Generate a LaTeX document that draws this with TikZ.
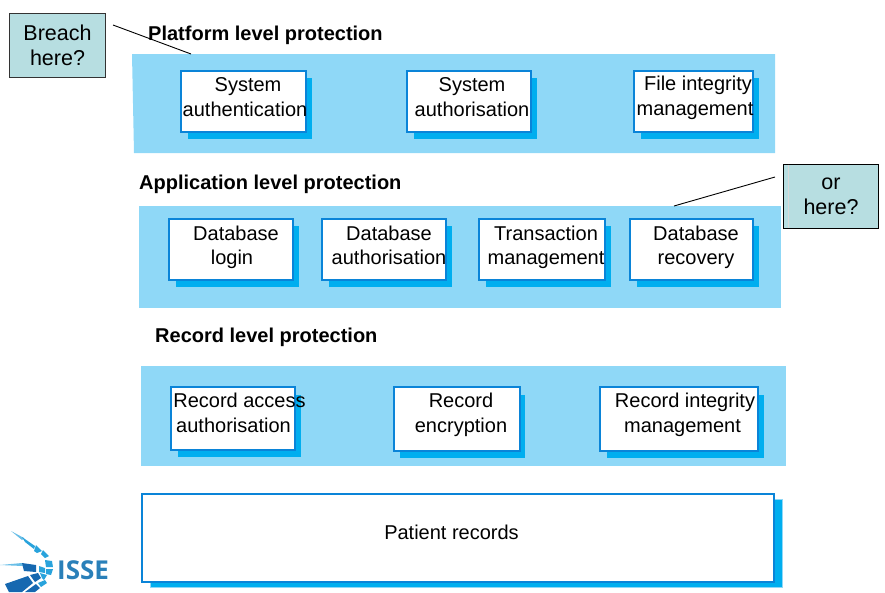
\documentclass[tikz,border=0pt]{standalone}
\usepackage{fontspec}
\setmainfont{Liberation Sans}
\newfontfamily\logofont{Open Sans}
\usetikzlibrary{shadows}
\definecolor{panelblue}{HTML}{8FD8F7}
\definecolor{shadowblue}{HTML}{00AEEF}
\definecolor{edgeblue}{HTML}{0A84D8}
\definecolor{noteteal}{HTML}{B7DEE1}
\definecolor{logoblue}{HTML}{2A80B9}
\definecolor{logolight}{HTML}{29A3DC}
\definecolor{logodark}{HTML}{1668B0}
\tikzset{
  panel/.style={fill=panelblue,draw=none},
  box/.style={draw=edgeblue,line width=2pt,fill=white,inner sep=0pt,anchor=north west,xshift=-1pt,yshift=1pt},
  boxshadow/.style={copy shadow={shadow xshift=#1,shadow yshift=-7pt,fill=shadowblue,draw=panelblue,line width=0.6pt}},
  boxshadow/.default=6.5pt,
  label/.style={align=center,font=\fontsize{20}{24.4}\selectfont},
  title/.style={anchor=west,inner sep=0pt,font=\fontsize{20}{24}\selectfont\bfseries},
  note/.style={draw=black!80,line width=1pt,fill=noteteal,inner sep=0pt,anchor=north west,align=center,font=\fontsize{21.5}{25}\selectfont},
  pointer/.style={draw=black,line width=0.9pt}
}
\begin{document}
\begin{tikzpicture}[x=1pt,y=-1pt]
\useasboundingbox (0,0) rectangle (885,592);
% panels
\path[panel] (132,54) -- (775,54) -- (775,153) -- (134,153) -- cycle;
\path[panel] (139,206) rectangle (781,308);
\path[panel] (141,366) rectangle (786,466);
% headings
\node[title] (platform) at (148,35) {Platform level protection};
\node[title] (application) at (139,184) {Application level protection};
\node[title] (record) at (155,337) {Record level protection};
% platform level
\node[box,boxshadow,minimum width=125pt,minimum height=61.5pt] (sysauth) at (180.5,70.5) {};
\node[box,boxshadow,minimum width=124pt,minimum height=61.5pt] (sysauthz) at (407,70.5) {};
\node[box,boxshadow,minimum width=119pt,minimum height=61.5pt] (fileint) at (634,70.5) {};
\node[label] (sysauthtext) at (245,97) {\hspace{6pt}System\\authentication};
\node[label] (sysauthztext) at (472,97) {System\\authorisation};
\node[label] (fileinttext) at (695,98) {\hspace{6pt}File integrity\\management};
% application level
\node[box,boxshadow=6pt,minimum width=124pt,minimum height=61.5pt] (dblogin) at (169,218.5) {};
\node[box,boxshadow=6pt,minimum width=124pt,minimum height=61.5pt] (dbauthz) at (322,218.5) {};
\node[box,boxshadow,minimum width=126pt,minimum height=61.5pt] (transact) at (479,218.5) {};
\node[box,boxshadow=6pt,minimum width=123pt,minimum height=61.5pt] (dbrecover) at (630,218.5) {};
\node[label] (dblogintext) at (232,247.5) {\hspace{8pt}Database\\login};
\node[label] (dbauthztext) at (389,245.5) {Database\\authorisation};
\node[label] (transacttext) at (546,247.5) {Transaction\\management\hspace{4pt}};
\node[label] (dbrecovertext) at (696,247.5) {Database\\recovery};
% record level
\node[box,boxshadow,minimum width=124pt,minimum height=63pt] (recaccess) at (171,387) {};
\node[box,boxshadow=5pt,minimum width=126pt,minimum height=64pt] (recencrypt) at (394,387) {};
\node[box,boxshadow,minimum width=158pt,minimum height=64pt] (recint) at (600,387) {};
\node[label] (recaccesstext) at (233.5,413) {\hspace{12pt}Record access\\authorisation};
\node[label] (recencrypttext) at (461,415) {Record\\encryption};
\node[label] (recinttext) at (682.5,415) {\hspace{5pt}Record integrity\\management};
% records
\node[box,copy shadow={shadow xshift=8pt,shadow yshift=-5pt,fill=shadowblue,draw=panelblue,line width=0.6pt},minimum width=632pt,minimum height=88pt] (patient) at (142,494) {};
\node[label] (patienttext) at (451.5,532) {Patient records};
% notes
\node[note,minimum width=96pt,minimum height=64pt] (breach) at (9,13) {Breach\\here?};
\node[note,draw=black,minimum width=95pt,minimum height=64pt] (orhere) at (783,164) {or\\here?};
\draw[white!85!black,line width=1pt] (orhere.north west) ++(5,0.5) -- ++(0,63);
% pointers
\coordinate (breachtip) at (113,25);
\coordinate (breachend) at (191,54);
\coordinate (ortip) at (775,177);
\coordinate (orend) at (674,206);
\draw[pointer] (breachtip) -- (breachend);
\draw[pointer] (ortip) -- (orend);
% logo
\node[font=\logofont\bfseries\fontsize{26}{26}\selectfont,text=logoblue,anchor=west,inner sep=0pt] (isse) at (57,570) {ISSE};
\fill[logolight!70] (11,531) -- (24,538) -- (22,540) -- cycle;
\fill[logolight] (22,537) -- (35,546) -- (34,549) -- (25,542) -- cycle;
\fill[logolight] (36,545) -- (42,551) -- (37,553) -- (34,551) -- cycle;
\fill[logolight] (43,550) -- (49,556) -- (45,558) -- (41,554) -- cycle;
\fill[logolight] (45,560) -- (52,561) -- (53,567) -- (46,567) -- cycle;
\fill[logolight!70] (0,565) -- (22,563) -- (23,566) -- cycle;
\fill[logodark] (22,563) -- (36,565) -- (36,572) -- (24,571) -- cycle;
\fill[logolight] (39,566) -- (45,568) -- (45,573) -- (39,572) -- cycle;
\fill[logolight] (46,569) -- (53,569) -- (51,575) -- (46,574) -- cycle;
\fill[logodark] (5,584) -- (28,576) -- (33,583) -- (22,592) -- (9,592) -- cycle;
\fill[logodark] (30,575) -- (38,573) -- (41,578) -- (35,582) -- cycle;
\fill[logolight] (40,573) -- (47,575) -- (44,580) -- (42,578) -- cycle;
\fill[logodark] (25,592) -- (36,584) -- (40,588) -- (35,592) -- cycle;
\fill[logolight] (38,583) -- (45,580) -- (47,583) -- (41,587) -- cycle;
\end{tikzpicture}
\end{document}
